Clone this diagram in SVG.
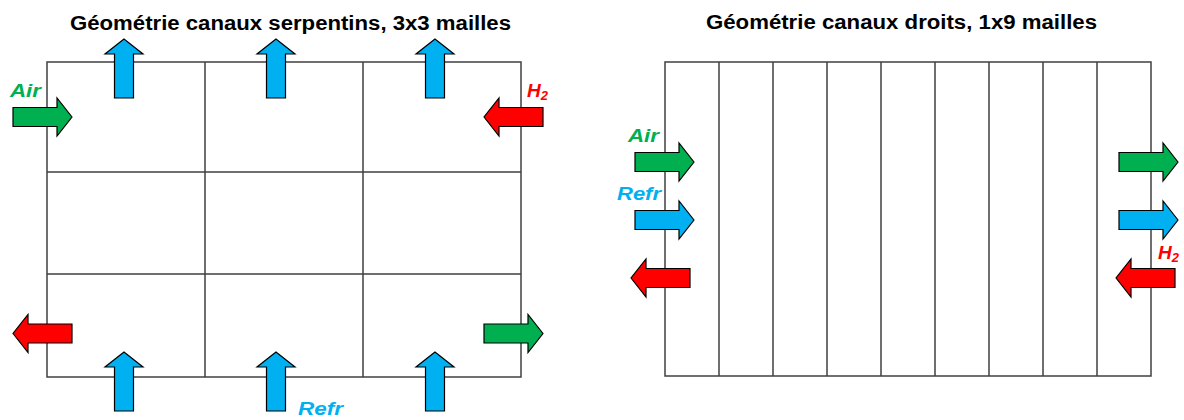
<svg xmlns="http://www.w3.org/2000/svg" xmlns:xlink="http://www.w3.org/1999/xlink" width="1184" height="420" viewBox="0 0 1184 420">
<style>
.grid{fill:none;stroke:#404040;stroke-width:1.5}
.title{font-family:"Liberation Sans",Arial,sans-serif;font-weight:bold;font-size:20px;fill:#000}
.lbl{font-family:"Liberation Sans",Arial,sans-serif;font-weight:bold;font-style:italic;font-size:19px}
.air{fill:#00B050}.h2{fill:#FF0000}.refr{fill:#00B0F0}
.ag{fill:#00B050;stroke:#000;stroke-width:1.2}
.ar{fill:#FF0000;stroke:#000;stroke-width:1.2}
.ab{fill:#00B0F0;stroke:#000;stroke-width:1.2}
</style>
<defs>
<path id="arr" d="M0,0 L-15,-19 L-15,-9.5 L-59,-9.5 L-59,9.5 L-15,9.5 L-15,19 Z" stroke-linejoin="miter"/>
</defs>
<rect width="1184" height="420" fill="#fff"/>
<g id="serpentins">
<text class="title" x="70" y="30" textLength="441" lengthAdjust="spacingAndGlyphs">Géométrie canaux serpentins, 3x3 mailles</text>
<rect class="grid" x="47" y="62" width="474" height="315"/>
<path class="grid" d="M205,62V377M363,62V377M47,172H521M47,274H521"/>
</g>
<g id="droits">
<text class="title" x="706" y="29" textLength="391" lengthAdjust="spacingAndGlyphs">Géométrie canaux droits, 1x9 mailles</text>
<rect class="grid" x="665" y="62" width="486" height="314"/>
<path class="grid" d="M719,62V376M773,62V376M827,62V376M881,62V376M935,62V376M989,62V376M1043,62V376M1097,62V376"/>
</g>
<g id="connectors">
<use xlink:href="#arr" class="ag" transform="translate(72,117)"/>
<use xlink:href="#arr" class="ar" transform="translate(484,117) rotate(180)"/>
<use xlink:href="#arr" class="ab" transform="translate(124,39) rotate(-90)"/>
<use xlink:href="#arr" class="ab" transform="translate(276,39) rotate(-90)"/>
<use xlink:href="#arr" class="ab" transform="translate(435,39) rotate(-90)"/>
<use xlink:href="#arr" class="ab" transform="translate(124,352) rotate(-90)"/>
<use xlink:href="#arr" class="ab" transform="translate(276,352) rotate(-90)"/>
<use xlink:href="#arr" class="ab" transform="translate(435,352) rotate(-90)"/>
<use xlink:href="#arr" class="ar" transform="translate(13,333.5) rotate(180)"/>
<use xlink:href="#arr" class="ag" transform="translate(543,333.5)"/>
<use xlink:href="#arr" class="ag" transform="translate(694,162)"/>
<use xlink:href="#arr" class="ab" transform="translate(694,220)"/>
<use xlink:href="#arr" class="ar" transform="translate(631,278) rotate(180)"/>
<use xlink:href="#arr" class="ag" transform="translate(1178,162)"/>
<use xlink:href="#arr" class="ab" transform="translate(1178,220)"/>
<use xlink:href="#arr" class="ar" transform="translate(1116,278) rotate(180)"/>
</g>
<g id="labels">
<text class="lbl air" x="10" y="97" textLength="31" lengthAdjust="spacingAndGlyphs">Air</text>
<text class="lbl h2" x="527" y="97">H<tspan font-size="13" dy="3">2</tspan></text>
<text class="lbl refr" x="298" y="415" textLength="45" lengthAdjust="spacingAndGlyphs">Refr</text>
<text class="lbl air" x="628" y="142" textLength="31" lengthAdjust="spacingAndGlyphs">Air</text>
<text class="lbl refr" x="617" y="200" textLength="44" lengthAdjust="spacingAndGlyphs">Refr</text>
<text class="lbl h2" x="1158" y="259">H<tspan font-size="13" dy="3">2</tspan></text>
</g>
</svg>
